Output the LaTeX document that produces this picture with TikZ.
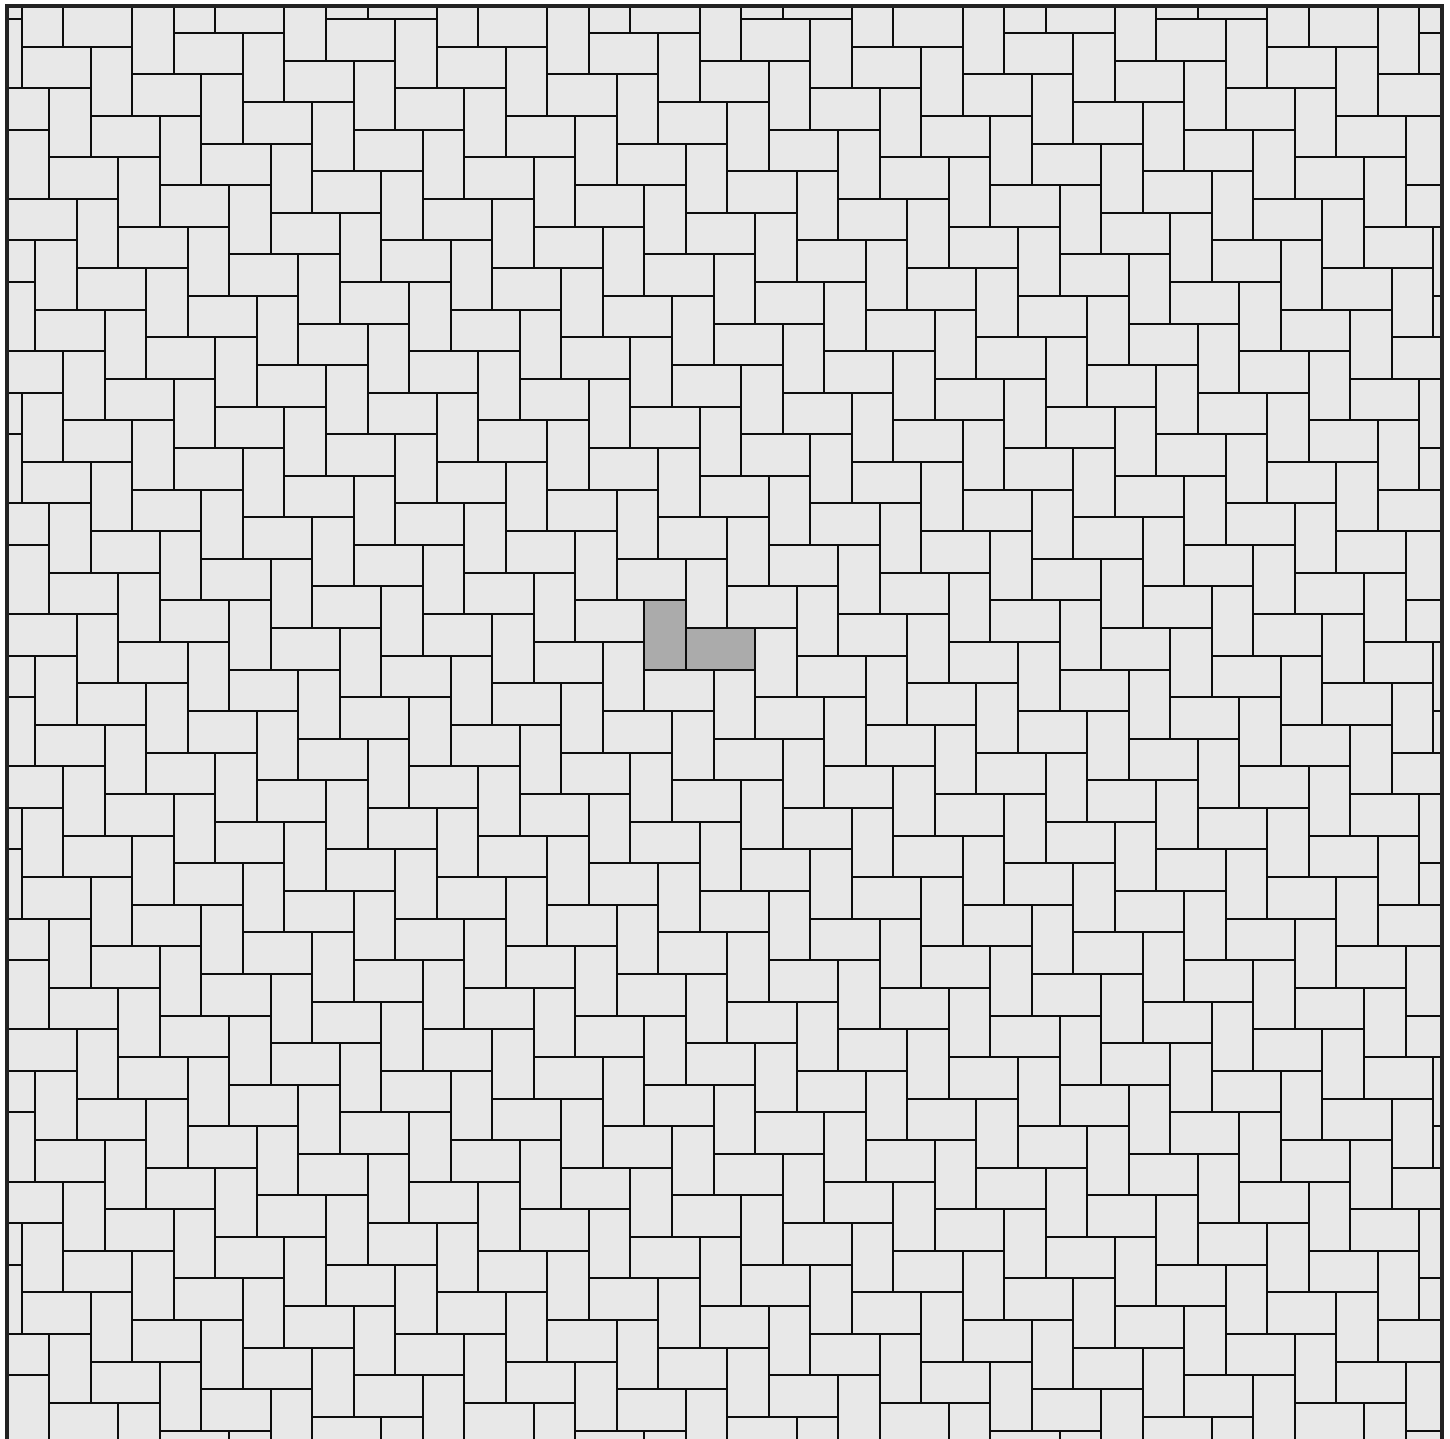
\documentclass[tikz,border=0pt]{standalone}
\definecolor{tilefill}{HTML}{E8E8E8}
\definecolor{hilite}{HTML}{ABABAB}
\definecolor{framec}{HTML}{222222}
\begin{document}
\begin{tikzpicture}[x=1pt,y=-1pt,
  tileline/.style={line width=2pt, draw=black!95, line join=miter},
  framestyle/.style={line width=4pt, draw=framec}]
\useasboundingbox (0,0) rectangle (1450,1439);
\fill[tilefill] (7.3,6) rectangle (1441.5,1446);
\begin{scope}
\clip (7.3,6) rectangle (1441.5,1446);
\foreach \a in {-11,...,13}{
  \foreach \b in {-20,...,19}{
    \pgfmathsetmacro\X{644.3+\a*69.2+\b*41.52}
    \pgfmathsetmacro\Y{600.3+\a*69.2-\b*41.52}
    \pgfmathtruncatemacro\ok{(\X>-130)&&(\X<1460)&&(\Y>-130)&&(\Y<1460)}
    \ifnum\ok>0
      \draw[tileline] (\X,\Y) rectangle ++(41.52,69.2);
      \draw[tileline] (\X+41.52,\Y+27.68) rectangle ++(69.2,41.52);
    \fi
  }
}
\filldraw[tileline, fill=hilite] (644.3,600.3) rectangle ++(41.52,69.2);
\filldraw[tileline, fill=hilite] (685.82,627.98) rectangle ++(69.2,41.52);
\end{scope}
\draw[framestyle] (7.3,1446) -- (7.3,6) -- (1441.5,6) -- (1441.5,1446);
\end{tikzpicture}
\end{document}
